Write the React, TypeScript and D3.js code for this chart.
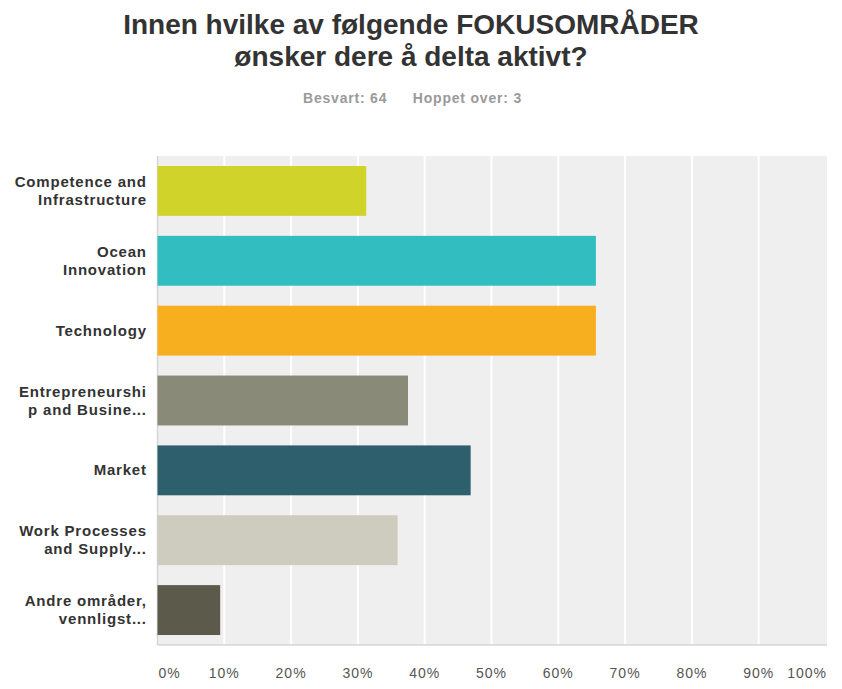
import React from "react";
import * as d3 from "d3";

const categories = [
  ["Competence and", "Infrastructure"],
  ["Ocean", "Innovation"],
  ["Technology"],
  ["Entrepreneurshi", "p and Busine..."],
  ["Market"],
  ["Work Processes", "and Supply..."],
  ["Andre områder,", "vennligst..."],
];
const values = [31.25, 65.63, 65.63, 37.5, 46.88, 35.94, 9.38];
const colors = ["#D0D42A", "#32BEC0", "#F7AE1F", "#898A78", "#2E5F6C", "#CDCCBE", "#5C5B4B"];
const ticks = [0, 10, 20, 30, 40, 50, 60, 70, 80, 90, 100];
const titleLines = ["Innen hvilke av følgende FOKUSOMRÅDER", "ønsker dere å delta aktivt?"];
const answered = "Besvart: 64";
const skipped = "Hoppet over: 3";

export default function App() {
  const W = 842, H = 689;
  const left = 157.5, right = 825.5, top = 156, bottom = 645;
  const x = d3.scaleLinear().domain([0, 100]).range([left, right]);
  const y = d3
    .scaleBand<number>()
    .domain(d3.range(categories.length))
    .range([top, bottom])
    .paddingInner(0.2857)
    .paddingOuter(0.1429);
  const font = "'Liberation Sans', Arial, sans-serif";
  return (
    <svg width={W} height={H} style={{ position: "absolute", left: 0, top: 0 }} fontFamily={font}>
      <rect width={W} height={H} fill="#fff" />
      {titleLines.map((t, i) => (
        <text key={i} x={411} y={34 + i * 32} textAnchor="middle" fontSize={28} fontWeight="bold" fill="#333">
          {t}
        </text>
      ))}
      <text x={303} y={103} fontSize={14} fontWeight="bold" fill="#9a9a9a" letterSpacing={0.8}>
        {answered}
      </text>
      <text x={522} y={103} textAnchor="end" fontSize={14} fontWeight="bold" fill="#9a9a9a" letterSpacing={0.8}>
        {skipped}
      </text>
      <rect x={left} y={top} width={right - left + 1.5} height={bottom - top} fill="#EFEFEF" />
      {ticks.slice(1, -1).map((t) => (
        <line key={t} x1={x(t)} x2={x(t)} y1={top} y2={bottom} stroke="#fff" strokeWidth={2} />
      ))}
      <line x1={left} x2={left} y1={top} y2={bottom} stroke="#d6d6d6" strokeWidth={1.5} />
      <line x1={left} x2={right + 1.5} y1={bottom} y2={bottom} stroke="#d6d6d6" strokeWidth={1.5} />
      {values.map((v, i) => (
        <rect key={i} x={x(0)} y={y(i)} width={x(v) - x(0)} height={y.bandwidth()} fill={colors[i]} />
      ))}
      {categories.map((lines, i) => {
        const cy = (y(i) as number) + y.bandwidth() / 2;
        const n = lines.length;
        return (
          <text key={i} textAnchor="end" fontSize={15} fontWeight="bold" fill="#333" letterSpacing={0.8}>
            {lines.map((l, j) => (
              <tspan key={j} x={146.8} y={cy + (j - (n - 1) / 2) * 18 + 5}>
                {l}
              </tspan>
            ))}
          </text>
        );
      })}
      {ticks.map((t, i) => (
        <text
          key={t}
          x={i === 0 ? x(t) + 1 : i === ticks.length - 1 ? x(t) + 1.5 : x(t)}
          y={678}
          textAnchor={i === 0 ? "start" : i === ticks.length - 1 ? "end" : "middle"}
          fontSize={14}
          fill="#555"
          letterSpacing={1}
        >
          {t}%
        </text>
      ))}
    </svg>
  );
}
